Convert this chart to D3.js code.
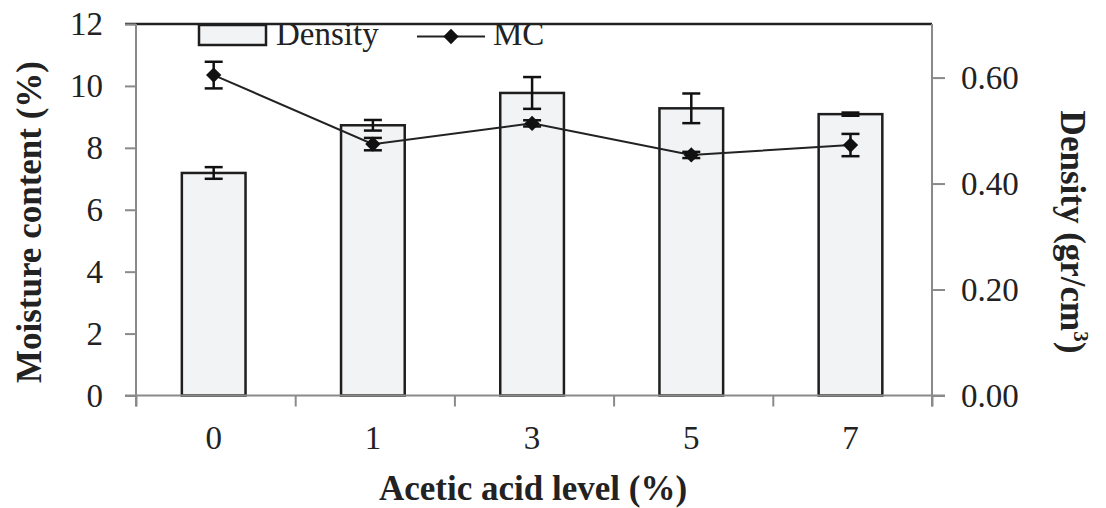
<!DOCTYPE html>
<meta charset="utf-8">
<style>
body { margin: 0; background: #fff; }
svg text { font-family: "Liberation Serif", "Times New Roman", serif; fill: #222; }
.tick text { font-size: 33px; }
.axis path, .axis line { stroke: #8a8a8a; stroke-width: 2; }
.bar { fill: #f2f3f5; stroke: #1e1e1e; stroke-width: 2.5; }
.err line { stroke: #111; stroke-width: 2.5; }
.mc-line { fill: none; stroke: #222; stroke-width: 2; }
.title { font-weight: bold; font-size: 35px; }
.legend text { font-size: 33px; }
</style>
<body>
<script src="https://cdn.jsdelivr.net/npm/d3@7"></script>
<script>

// acetic acid level categories
var levels = ['0', '1', '3', '5', '7']

// density (gr/cm3) -> bars, right axis
var density = [0.42, 0.51, 0.571, 0.542, 0.531]
var densityErr = [0.011, 0.010, 0.030, 0.028, 0.003]

// moisture content (%) -> line, left axis
var mc = [10.35, 8.12, 8.79, 7.77, 8.09]
var mcErr = [0.43, 0.20, 0.10, 0.10, 0.36]

var leftTicks = [0, 2, 4, 6, 8, 10, 12]
var rightTicks = [0, 0.2, 0.4, 0.6]

var width = 1106
var height = 508
var plotL = 136, plotR = 932, plotT = 24, plotB = 395.5

var svg = d3.select('body').append('svg')
    .attr('width', width)
    .attr('height', height)

var x = d3.scaleBand()
    .domain(levels)
    .range([plotL, plotR])
    .paddingInner(0.6)
    .paddingOuter(0.3)
    .align(0.48)

var xb = d3.scaleLinear()
    .domain([0, levels.length])
    .range([plotL, plotR])

var yL = d3.scaleLinear().domain([0, 12]).range([plotB, plotT])
var yR = d3.scaleLinear().domain([0, 0.7]).range([plotB, plotT + 0.6])

// top border
svg.append('line')
    .attr('x1', plotL - 11).attr('x2', plotR)
    .attr('y1', plotT).attr('y2', plotT)
    .attr('stroke', '#222').attr('stroke-width', 2.5)

// bars
svg.append('g').selectAll('rect')
    .data(density)
    .enter().append('rect')
    .attr('class', 'bar')
    .attr('x', function (d, i) { return x(levels[i]) })
    .attr('width', x.bandwidth())
    .attr('y', function (d) { return yR(d) })
    .attr('height', function (d) { return yR(0) - yR(d) })

function errorBars(g, vals, errs, scale) {
    var cap = 9
    var e = g.append('g').attr('class', 'err').selectAll('g')
        .data(vals)
        .enter().append('g')
        .attr('transform', function (d, i) {
            return 'translate(' + (x(levels[i]) + x.bandwidth() / 2) + ',0)'
        })
    e.append('line')
        .attr('y1', function (d, i) { return scale(d - errs[i]) })
        .attr('y2', function (d, i) { return scale(d + errs[i]) })
    e.append('line')
        .attr('x1', -cap).attr('x2', cap)
        .attr('y1', function (d, i) { return scale(d + errs[i]) })
        .attr('y2', function (d, i) { return scale(d + errs[i]) })
    e.append('line')
        .attr('x1', -cap).attr('x2', cap)
        .attr('y1', function (d, i) { return scale(d - errs[i]) })
        .attr('y2', function (d, i) { return scale(d - errs[i]) })
}

errorBars(svg, density, densityErr, yR)

// axes
var xAxis = svg.append('g')
    .attr('class', 'axis')
    .attr('transform', 'translate(0,' + plotB + ')')
    .call(d3.axisBottom(xb).tickValues(d3.range(levels.length + 1)).tickFormat('').tickSize(11).tickSizeOuter(0))
xAxis.select('.domain').attr('d', 'M' + (plotL - 11) + ',0H' + (plotR + 13))

svg.append('g')
    .attr('transform', 'translate(0,' + plotB + ')')
    .call(d3.axisBottom(x).tickSize(0).tickPadding(30))
    .call(function (g) { g.select('.domain').remove() })

svg.append('g')
    .attr('class', 'axis')
    .attr('transform', 'translate(' + plotL + ',0)')
    .call(d3.axisLeft(yL).tickValues(leftTicks).tickSize(11).tickSizeOuter(0).tickPadding(22))
    .call(function (g) { g.select('.domain').attr('d', 'M0,' + plotT + 'V' + (plotB + 11)) })

svg.append('g')
    .attr('class', 'axis')
    .attr('transform', 'translate(' + plotR + ',0)')
    .call(d3.axisRight(yR).tickValues(rightTicks).tickFormat(d3.format('.2f')).tickSize(13).tickSizeOuter(0).tickPadding(16))
    .call(function (g) { g.select('.domain').attr('d', 'M0,' + plotT + 'V' + (plotB + 11)) })

svg.selectAll('.tick text').attr('fill', '#222')

// MC line
var line = d3.line()
    .x(function (d, i) { return x(levels[i]) + x.bandwidth() / 2 })
    .y(function (d) { return yL(d) })

svg.append('path')
    .datum(mc)
    .attr('class', 'mc-line')
    .attr('d', line)

errorBars(svg, mc, mcErr, yL)

var diamond = d3.symbol().type(d3.symbolDiamond2).size(150)
svg.append('g').selectAll('path')
    .data(mc)
    .enter().append('path')
    .attr('d', diamond)
    .attr('fill', '#111')
    .attr('transform', function (d, i) {
        return 'translate(' + (x(levels[i]) + x.bandwidth() / 2) + ',' + yL(d) + ')'
    })

// titles
svg.append('text')
    .attr('class', 'title')
    .attr('text-anchor', 'middle')
    .attr('x', 533).attr('y', 500)
    .text('Acetic acid level (%)')

svg.append('text')
    .attr('class', 'title')
    .attr('text-anchor', 'middle')
    .attr('transform', 'translate(41,222) rotate(-90)')
    .text('Moisture content (%)')

var rt = svg.append('text')
    .attr('class', 'title')
    .attr('text-anchor', 'middle')
    .attr('transform', 'translate(1061,232) rotate(90)')
rt.append('tspan').text('Density (gr/cm')
rt.append('tspan').attr('font-size', '21px').attr('dy', -13).text('3')
rt.append('tspan').attr('dy', 13).text(')')

// legend
var legend = svg.append('g').attr('class', 'legend')
legend.append('rect')
    .attr('class', 'bar')
    .attr('x', 199).attr('y', 25)
    .attr('width', 67).attr('height', 20)
legend.append('text').attr('x', 276).attr('y', 45).text('Density')
legend.append('line')
    .attr('x1', 417).attr('x2', 485)
    .attr('y1', 36.5).attr('y2', 36.5)
    .attr('stroke', '#222').attr('stroke-width', 2)
legend.append('path')
    .attr('d', diamond)
    .attr('fill', '#111')
    .attr('transform', 'translate(451,36.5)')
legend.append('text').attr('x', 493).attr('y', 45).text('MC')

</script>
</body>
